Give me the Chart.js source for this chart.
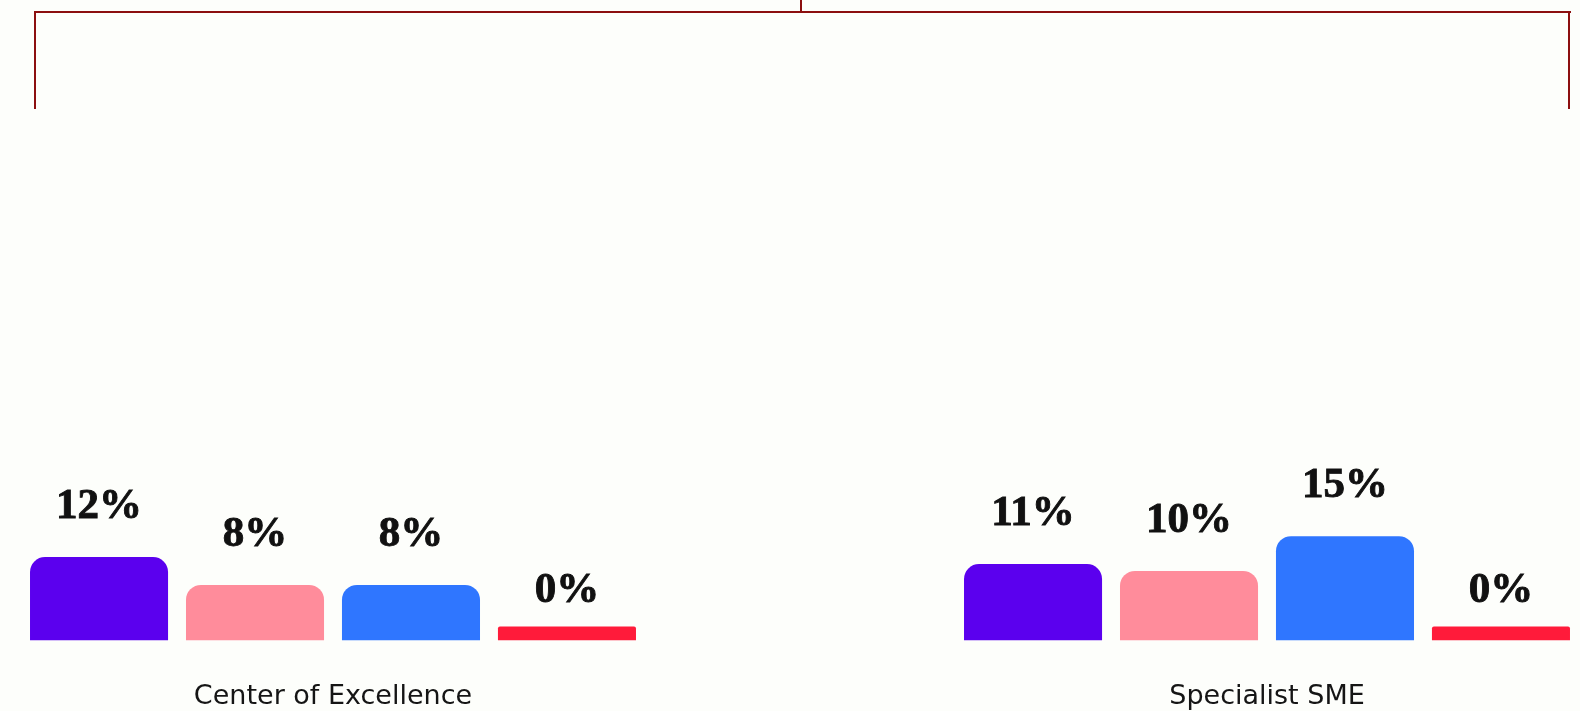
<!DOCTYPE html>
<html>
<head>
<meta charset="utf-8">
<script src="https://cdn.jsdelivr.net/npm/chart.js@4.4.1/dist/chart.umd.min.js"></script>
<style>
  html, body { margin: 0; padding: 0; background: #fdfefb; overflow: hidden; width: 1580px; height: 711px; }
  .bracket { position: absolute; background: #8c0f0f; }
  #wrap { position: absolute; left: -134px; top: 0; width: 1868px; height: 753px; }
</style>
</head>
<body>
<!-- bracket across the top -->
<div class="bracket" style="left:34px; top:11px; width:1537px; height:2px"></div>
<div class="bracket" style="left:800px; top:0; width:2px; height:12px"></div>
<div class="bracket" style="left:34px; top:11px; width:2px; height:98px"></div>
<div class="bracket" style="left:1568px; top:11px; width:2px; height:98px"></div>

<div id="wrap"><canvas id="chart"></canvas></div>

<script>
const categories = ['Center of Excellence', 'Specialist SME'];
const seriesNames = ['Series 1', 'Series 2', 'Series 3', 'Series 4'];
const series1 = [12, 11];
const series2 = [8, 10];
const series3 = [8, 15];
const series4 = [0, 0];
const seriesColors = ['#5b00ee', '#ff8c9b', '#2f76ff', '#ff1b3a'];

// percentage labels sit a fixed distance above the value position
const valueLabels = {
  id: 'valueLabels',
  afterDatasetsDraw(chart) {
    const ctx = chart.ctx;
    const y = chart.scales.y;
    ctx.save();
    ctx.font = 'bold 43px "Liberation Serif"';
    ctx.fillStyle = '#111111';
    ctx.strokeStyle = '#111111';
    ctx.lineWidth = 0.9;
    ctx.textAlign = 'center';
    ctx.textBaseline = 'alphabetic';
    chart.data.datasets.forEach((ds, i) => {
      chart.getDatasetMeta(i).data.forEach((bar, j) => {
        const v = ds.data[j];
        const ty = y.getPixelForValue(v) - 39;
        ctx.fillText(v + '%', bar.x, ty);
        ctx.strokeText(v + '%', bar.x, ty);
      });
    });
    ctx.restore();
  }
};

const allSeries = [series1, series2, series3, series4];

new Chart(document.getElementById('chart'), {
  type: 'bar',
  data: {
    labels: categories,
    datasets: allSeries.map((vals, i) => ({
      label: seriesNames[i],
      data: vals,
      backgroundColor: seriesColors[i],
      borderRadius: c => (c.raw === 0 ? 2 : 15),
      borderSkipped: 'start',
      minBarLength: 14,
      categoryPercentage: 0.668,
      barPercentage: 0.885
    }))
  },
  options: {
    responsive: true,
    maintainAspectRatio: false,
    animation: false,
    layout: { padding: 0 },
    plugins: {
      legend: { display: false },
      tooltip: { enabled: false }
    },
    scales: {
      x: {
        grid: { display: false, drawTicks: false },
        border: { display: false },
        ticks: {
          padding: 40,
          color: '#151515',
          font: { family: 'DejaVu Sans', size: 27 }
        }
      },
      y: {
        display: false,
        min: 0,
        max: 92
      }
    }
  },
  plugins: [valueLabels]
});
</script>
</body>
</html>
